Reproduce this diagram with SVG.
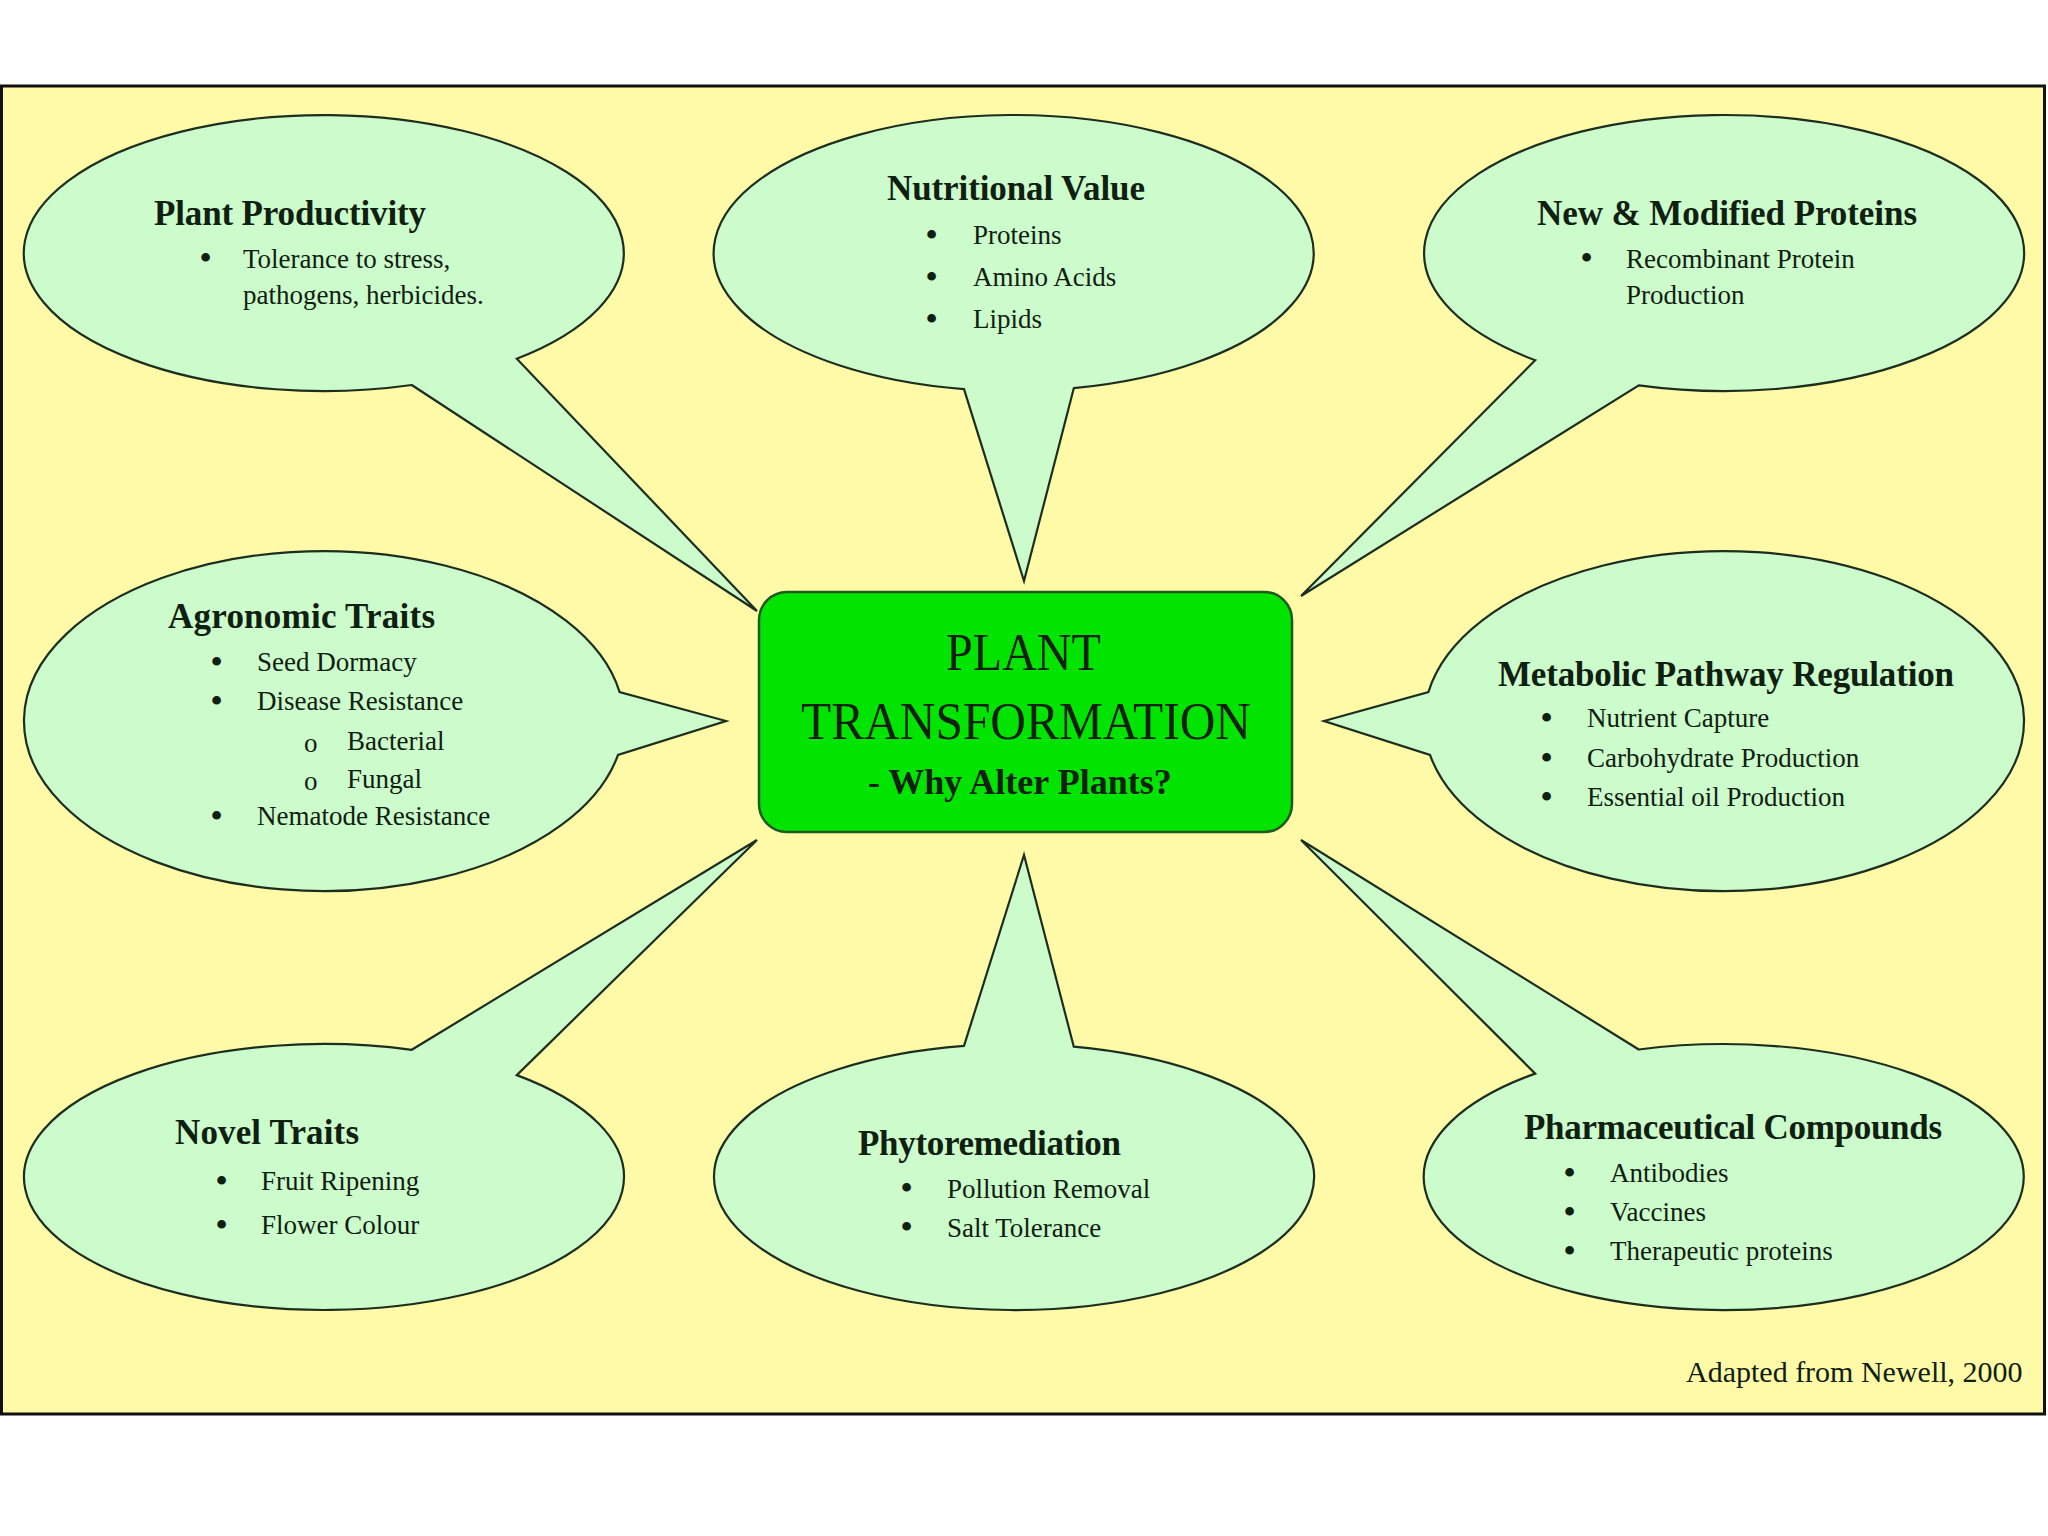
<svg xmlns="http://www.w3.org/2000/svg" width="2048" height="1536" viewBox="0 0 2048 1536">
<style>
.bub{fill:#CCFBCC;stroke:#1e2e1e;stroke-width:2.2}
.t{font-family:"Liberation Serif","Times New Roman",serif;fill:#102010}
.h{font-size:35px;font-weight:bold}
.b{font-size:27px}
.d{font-size:32px;font-weight:bold}
.c{font-size:52px}
.cs{font-size:36px;font-weight:bold}
</style>
<rect x="0" y="0" width="2048" height="1536" fill="#ffffff"/>
<rect id="frame" x="1.5" y="86" width="2043" height="1328" fill="#FFFAA8" stroke="#111" stroke-width="3"/>
<g id="connectors"></g>
<g id="n-productivity">
<path class="bub" d="M516.8,358.7 A300,138 0 1 0 411.7,385 L757,611 Z"/>
<text class="t h" x="154" y="225" textLength="272">Plant Productivity</text>
<text class="t d" x="200" y="268">•</text>
<text class="t b" x="243" y="268">Tolerance to stress,</text>
<text class="t b" x="243" y="304">pathogens, herbicides.</text>
</g>
<g id="n-nutritional">
<path class="bub" d="M1073.8,388.2 A300,138 0 1 0 964,389.1 L1024,581 Z"/>
<text class="t h" x="887" y="200" textLength="258">Nutritional Value</text>
<text class="t d" x="926" y="245">•</text>
<text class="t b" x="973" y="244">Proteins</text>
<text class="t d" x="926" y="287">•</text>
<text class="t b" x="973" y="286">Amino Acids</text>
<text class="t d" x="926" y="329">•</text>
<text class="t b" x="973" y="328">Lipids</text>
</g>
<g id="n-proteins">
<path class="bub" d="M1638.8,385.3 A300,138 0 1 0 1535.2,360.2 L1301,596 Z"/>
<text class="t h" x="1537" y="225" textLength="380">New &amp; Modified Proteins</text>
<text class="t d" x="1581" y="268">•</text>
<text class="t b" x="1626" y="268">Recombinant Protein</text>
<text class="t b" x="1626" y="304">Production</text>
</g>
<g id="n-agronomic">
<path class="bub" d="M619.6,692.1 A300,170 0 1 0 618,754.9 L726,721 Z"/>
<text class="t h" x="168" y="628" textLength="267">Agronomic Traits</text>
<text class="t d" x="211" y="672">•</text>
<text class="t b" x="257" y="671">Seed Dormacy</text>
<text class="t d" x="211" y="711">•</text>
<text class="t b" x="257" y="710">Disease Resistance</text>
<text class="t b" x="304" y="752">o</text>
<text class="t b" x="347" y="750">Bacterial</text>
<text class="t b" x="304" y="790">o</text>
<text class="t b" x="347" y="788">Fungal</text>
<text class="t d" x="211" y="826">•</text>
<text class="t b" x="257" y="825">Nematode Resistance</text>
</g>
<g id="n-metabolic">
<path class="bub" d="M1430,754.9 A300,170 0 1 0 1428.4,692.1 L1324,721 Z"/>
<text class="t h" x="1498" y="686" textLength="456">Metabolic Pathway Regulation</text>
<text class="t d" x="1541" y="728">•</text>
<text class="t b" x="1587" y="727">Nutrient Capture</text>
<text class="t d" x="1541" y="768">•</text>
<text class="t b" x="1587" y="767">Carbohydrate Production</text>
<text class="t d" x="1541" y="807">•</text>
<text class="t b" x="1587" y="806">Essential oil Production</text>
</g>
<g id="n-novel">
<path class="bub" d="M411.7,1049.8 A300,133 0 1 0 516.8,1075.1 L757,840 Z"/>
<text class="t h" x="175" y="1144" textLength="184">Novel Traits</text>
<text class="t d" x="216" y="1191">•</text>
<text class="t b" x="261" y="1190">Fruit Ripening</text>
<text class="t d" x="216" y="1235">•</text>
<text class="t b" x="261" y="1234">Flower Colour</text>
</g>
<g id="n-phyto">
<path class="bub" d="M964,1045.9 A300,133 0 1 0 1073.8,1046.7 L1024,855 Z"/>
<text class="t h" x="858" y="1155" textLength="263">Phytoremediation</text>
<text class="t d" x="901" y="1198">•</text>
<text class="t b" x="947" y="1198">Pollution Removal</text>
<text class="t d" x="901" y="1237">•</text>
<text class="t b" x="947" y="1237">Salt Tolerance</text>
</g>
<g id="n-pharma">
<path class="bub" d="M1535.2,1073.6 A300,133 0 1 0 1638.8,1049.5 L1301,840 Z"/>
<text class="t h" x="1524" y="1139" textLength="418">Pharmaceutical Compounds</text>
<text class="t d" x="1564" y="1183">•</text>
<text class="t b" x="1610" y="1182">Antibodies</text>
<text class="t d" x="1564" y="1222">•</text>
<text class="t b" x="1610" y="1221">Vaccines</text>
<text class="t d" x="1564" y="1261">•</text>
<text class="t b" x="1610" y="1260">Therapeutic proteins</text>
</g>
<g id="n-center">
<rect x="759" y="592" width="533" height="240" rx="28" ry="28" fill="#00E400" stroke="#1f5a1f" stroke-width="2.5"/>
<text class="t c" x="946" y="670" textLength="155" lengthAdjust="spacingAndGlyphs">PLANT</text>
<text class="t c" x="801" y="739" textLength="450" lengthAdjust="spacingAndGlyphs">TRANSFORMATION</text>
<text class="t cs" x="868" y="794">- Why Alter Plants?</text>
</g>
<text id="credit" class="t" font-size="30" x="1686" y="1382">Adapted from Newell, 2000</text>
</svg>
